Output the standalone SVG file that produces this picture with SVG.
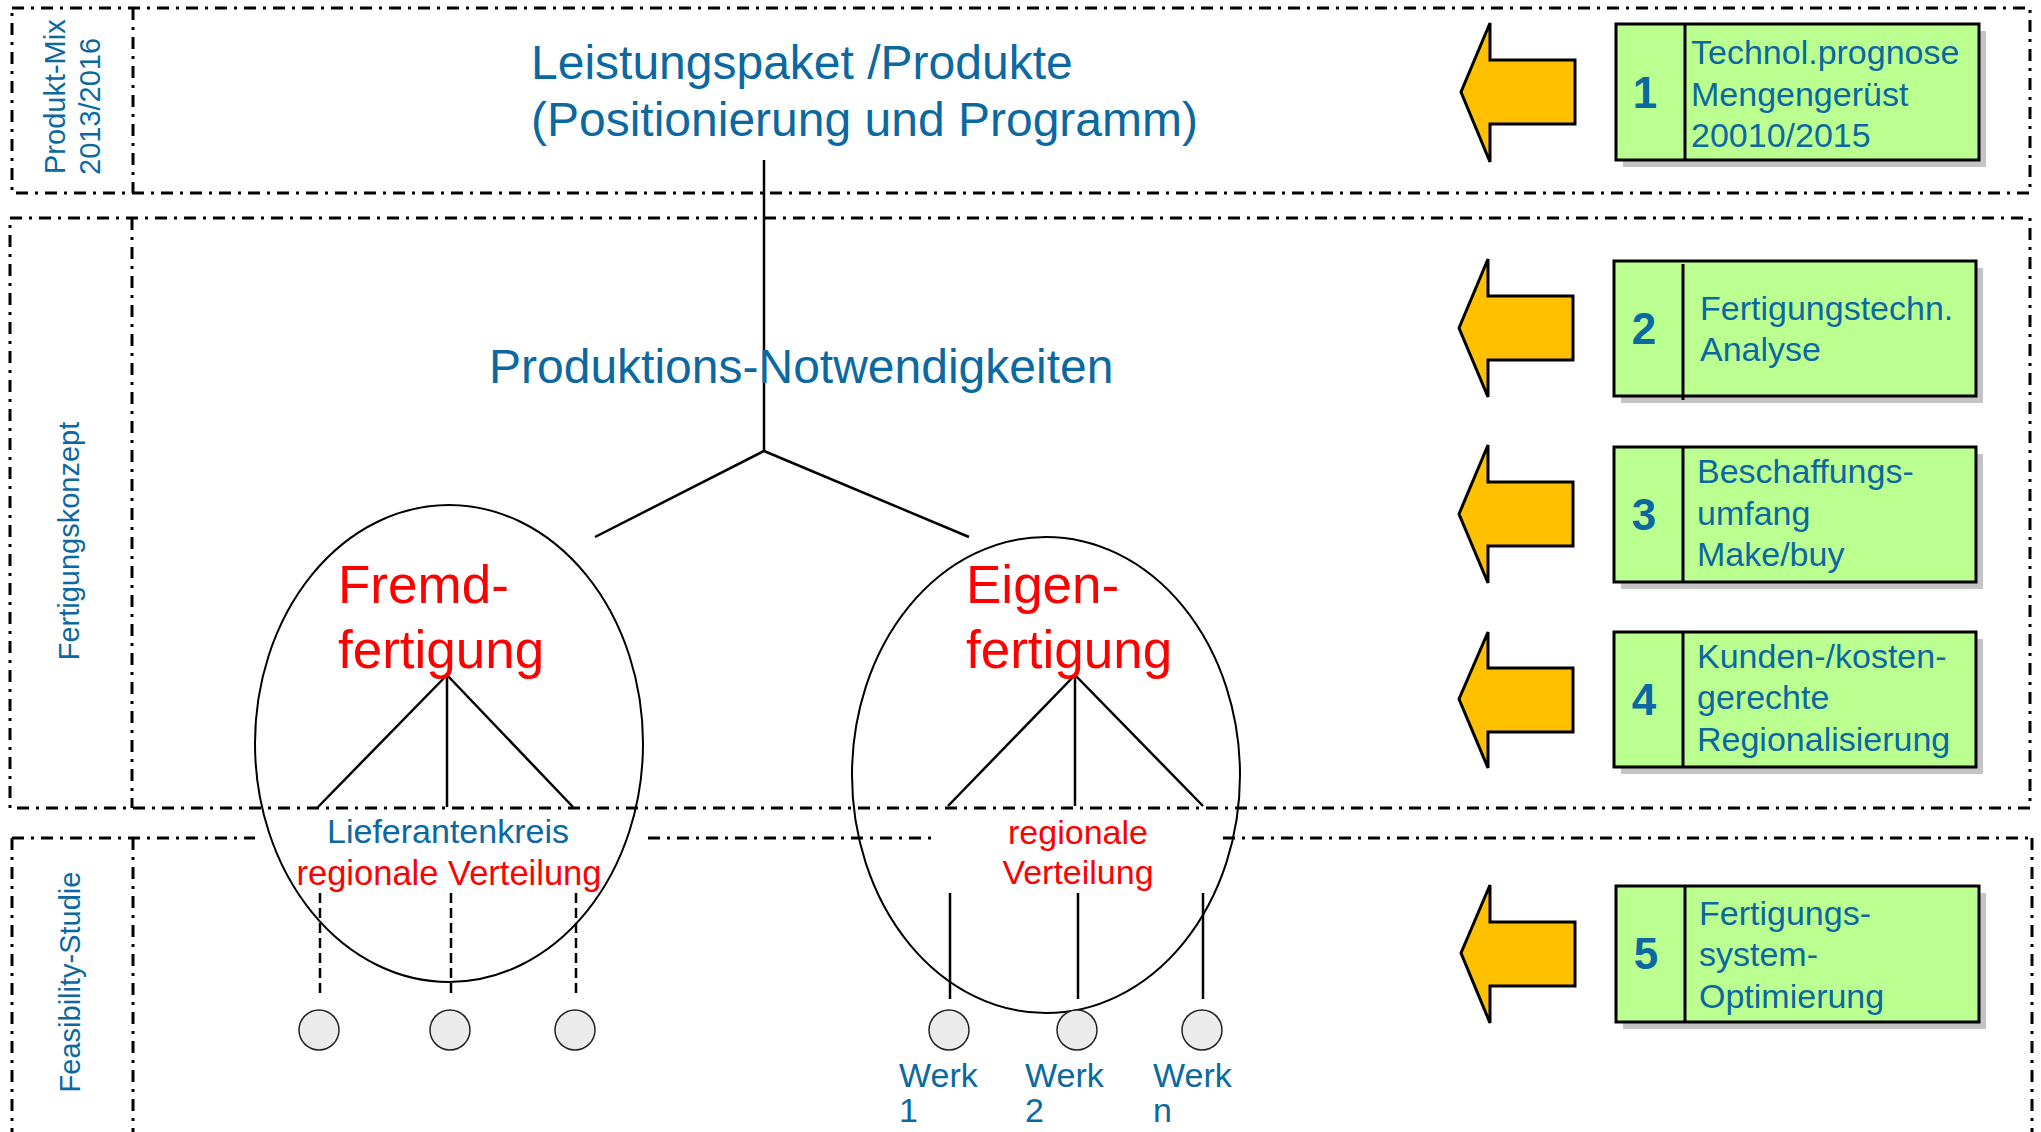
<svg xmlns="http://www.w3.org/2000/svg" width="2041" height="1132" viewBox="0 0 2041 1132">
<style>
.sec{fill:none;stroke:#000;stroke-width:3;stroke-dasharray:12 7 3 7}
.lbl{font-family:"Liberation Sans",Arial,sans-serif;fill:#0b68a0}
.red{font-family:"Liberation Sans",Arial,sans-serif;fill:#ff0000}
.ln{stroke:#000;stroke-width:2.5;fill:none}
.dash{stroke:#000;stroke-width:2.5;stroke-dasharray:10 5;fill:none}
.ell{fill:none;stroke:#000;stroke-width:2}
.dot{fill:#ebebeb;stroke:#222;stroke-width:1.5}
.arrow{fill:#ffc000;stroke:#000;stroke-width:3;stroke-linejoin:miter}
.box{fill:#bbff90;stroke:#000;stroke-width:3}
.shadow{fill:#c4c4c4}
.div{stroke:#000;stroke-width:3}
.num{font-family:"Liberation Sans",Arial,sans-serif;font-weight:bold;font-size:44px;fill:#0b68a0;text-anchor:middle}
.bt{font-family:"Liberation Sans",Arial,sans-serif;font-size:34px;fill:#0b68a0}
</style>

<g id="sections">
  <g id="section-produktmix">
    <path class="sec" d="M12,8 H2030 V193 H12 Z"/>
    <line class="sec" x1="133" y1="8" x2="133" y2="193"/>
    <text class="lbl" font-size="29" transform="translate(65,174) rotate(-90)">Produkt-Mix</text>
    <text class="lbl" font-size="29" transform="translate(100,175) rotate(-90)">2013/2016</text>
  </g>
  <g id="section-fertigungskonzept">
    <path class="sec" d="M10,218 H2030 V808 H10 Z"/>
    <line class="sec" x1="132" y1="218" x2="132" y2="808"/>
    <text class="lbl" font-size="29" text-anchor="middle" transform="translate(79,541) rotate(-90)">Fertigungskonzept</text>
  </g>
  <g id="section-feasibility">
    <line class="sec" x1="12" y1="838" x2="255" y2="838"/>
    <line class="sec" x1="648" y1="838" x2="932" y2="838"/>
    <line class="sec" x1="1223" y1="838" x2="2032" y2="838"/>
    <line class="sec" x1="12" y1="838" x2="12" y2="1140"/>
    <line class="sec" x1="2032" y1="838" x2="2032" y2="1140"/>
    <line class="sec" x1="133" y1="838" x2="133" y2="1140"/>
    <text class="lbl" font-size="29" text-anchor="middle" transform="translate(80,982) rotate(-90)">Feasibility-Studie</text>
  </g>
</g>

<g id="connectors">
  <line class="ln" x1="764" y1="160" x2="764" y2="451"/>
  <polyline class="ln" points="595,537 764,451 969,537"/>
  <line class="ln" x1="447" y1="675" x2="318" y2="807"/>
  <line class="ln" x1="447" y1="675" x2="447" y2="807"/>
  <line class="ln" x1="447" y1="675" x2="573" y2="807"/>
  <line class="ln" x1="1075" y1="675" x2="948" y2="806"/>
  <line class="ln" x1="1075" y1="675" x2="1075" y2="806"/>
  <line class="ln" x1="1075" y1="675" x2="1203" y2="806"/>
  <line class="dash" x1="320" y1="893" x2="320" y2="996"/>
  <line class="dash" x1="451" y1="893" x2="451" y2="996"/>
  <line class="dash" x1="576" y1="893" x2="576" y2="996"/>
  <line class="ln" x1="950" y1="893" x2="950" y2="999"/>
  <line class="ln" x1="1078" y1="893" x2="1078" y2="999"/>
  <line class="ln" x1="1203" y1="893" x2="1203" y2="999"/>
</g>

<g id="leistungspaket">
  <text class="lbl" font-size="48" x="531" y="79">Leistungspaket /Produkte</text>
  <text class="lbl" font-size="48" x="531" y="136">(Positionierung und Programm)</text>
</g>

<g id="produktions-notwendigkeiten">
  <text class="lbl" font-size="48" x="489" y="383">Produktions-Notwendigkeiten</text>
</g>

<g id="fremdfertigung">
  <ellipse class="ell" cx="449" cy="743.5" rx="194" ry="238.5"/>
  <text class="red" font-size="53" x="338" y="603">Fremd-</text>
  <text class="red" font-size="53" x="338" y="668">fertigung</text>
  <text class="lbl" font-size="34" text-anchor="middle" x="448" y="843">Lieferantenkreis</text>
  <text class="red" font-size="34.5" text-anchor="middle" x="449" y="885">regionale Verteilung</text>
</g>

<g id="eigenfertigung">
  <ellipse class="ell" cx="1046" cy="775" rx="194" ry="238"/>
  <text class="red" font-size="53" x="966" y="603">Eigen-</text>
  <text class="red" font-size="53" x="966" y="668">fertigung</text>
  <text class="red" font-size="34" text-anchor="middle" x="1078" y="844">regionale</text>
  <text class="red" font-size="34" text-anchor="middle" x="1078" y="884">Verteilung</text>
</g>

<g id="lieferanten">
  <circle class="dot" cx="319" cy="1030" r="20"/>
  <circle class="dot" cx="450" cy="1030" r="20"/>
  <circle class="dot" cx="575" cy="1030" r="20"/>
</g>

<g id="werke">
  <g id="werk1">
    <circle class="dot" cx="949" cy="1030" r="20"/>
    <text class="lbl" font-size="34" x="899" y="1087">Werk</text>
    <text class="lbl" font-size="34" x="899" y="1122">1</text>
  </g>
  <g id="werk2">
    <circle class="dot" cx="1077" cy="1030" r="20"/>
    <text class="lbl" font-size="34" x="1025" y="1087">Werk</text>
    <text class="lbl" font-size="34" x="1025" y="1122">2</text>
  </g>
  <g id="werkn">
    <circle class="dot" cx="1202" cy="1030" r="20"/>
    <text class="lbl" font-size="34" x="1153" y="1087">Werk</text>
    <text class="lbl" font-size="34" x="1153" y="1122">n</text>
  </g>
</g>

<g id="arrows">
  <polygon class="arrow" points="1461,92 1490,23 1490,60 1575,60 1575,124 1490,124 1490,162"/>
  <polygon class="arrow" points="1459,328 1488,259 1488,296 1573,296 1573,360 1488,360 1488,397"/>
  <polygon class="arrow" points="1459,514 1488,445 1488,482 1573,482 1573,546 1488,546 1488,583"/>
  <polygon class="arrow" points="1459,699 1488,632 1488,668 1573,668 1573,732 1488,732 1488,768"/>
  <polygon class="arrow" points="1461,953 1490,885 1490,922 1575,922 1575,986 1490,986 1490,1023"/>
</g>

<g id="box1">
  <rect class="shadow" x="1623" y="31" width="363" height="136"/>
  <rect class="box" x="1616" y="24" width="363" height="136"/>
  <line class="div" x1="1685" y1="24" x2="1685" y2="160"/>
  <text class="num" x="1645" y="108">1</text>
  <text class="bt" x="1691" y="64">Technol.prognose</text>
  <text class="bt" x="1691" y="106">Mengengerüst</text>
  <text class="bt" x="1691" y="147">20010/2015</text>
</g>

<g id="box2">
  <rect class="shadow" x="1621" y="268" width="362" height="135"/>
  <rect class="box" x="1614" y="261" width="362" height="135"/>
  <line class="div" x1="1683" y1="264" x2="1683" y2="400"/>
  <text class="num" x="1644" y="344">2</text>
  <text class="bt" x="1700" y="320">Fertigungstechn.</text>
  <text class="bt" x="1700" y="361">Analyse</text>
</g>

<g id="box3">
  <rect class="shadow" x="1621" y="454" width="362" height="135"/>
  <rect class="box" x="1614" y="447" width="362" height="135"/>
  <line class="div" x1="1683" y1="447" x2="1683" y2="582"/>
  <text class="num" x="1644" y="530">3</text>
  <text class="bt" x="1697" y="483">Beschaffungs-</text>
  <text class="bt" x="1697" y="525">umfang</text>
  <text class="bt" x="1697" y="566">Make/buy</text>
</g>

<g id="box4">
  <rect class="shadow" x="1621" y="639" width="362" height="135"/>
  <rect class="box" x="1614" y="632" width="362" height="135"/>
  <line class="div" x1="1683" y1="632" x2="1683" y2="767"/>
  <text class="num" x="1644" y="715">4</text>
  <text class="bt" x="1697" y="668">Kunden-/kosten-</text>
  <text class="bt" x="1697" y="709">gerechte</text>
  <text class="bt" x="1697" y="751">Regionalisierung</text>
</g>

<g id="box5">
  <rect class="shadow" x="1623" y="893" width="363" height="136"/>
  <rect class="box" x="1616" y="886" width="363" height="136"/>
  <line class="div" x1="1685" y1="886" x2="1685" y2="1022"/>
  <text class="num" x="1646" y="969">5</text>
  <text class="bt" x="1699" y="925">Fertigungs-</text>
  <text class="bt" x="1699" y="966">system-</text>
  <text class="bt" x="1699" y="1008">Optimierung</text>
</g>
</svg>
